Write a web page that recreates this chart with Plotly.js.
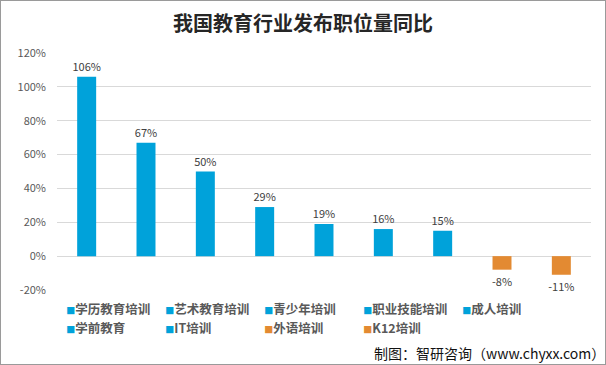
<!DOCTYPE html>
<html><head><meta charset="utf-8">
<script src="https://cdn.plot.ly/plotly-3.0.1.min.js"></script>
<style>
html,body{margin:0;padding:0;background:#fff;}
#wrap{width:606px;height:365px;box-sizing:border-box;border:1px solid #9a9a9a;position:relative;overflow:hidden;}
#chart{position:absolute;left:-1px;top:-1px;width:606px;height:365px;}
</style></head>
<body><div id="wrap"><div id="chart"></div></div>
<script>
const categories = ["学历教育培训","艺术教育培训","青少年培训","职业技能培训","成人培训","学前教育","IT培训","外语培训","K12培训"];
const values = [106, 67, 50, 29, 19, 16, 15, -8, -11];
const colors = ["#00A2DA","#00A2DA","#00A2DA","#00A2DA","#00A2DA","#00A2DA","#00A2DA","#E38A32","#E38A32"];
const yTicks = [-20, 0, 20, 40, 60, 80, 100, 120];

const bars = categories.map((c, i) => ({
  type: 'bar',
  name: c,
  x: [c],
  y: [values[i]],
  width: 0.32,
  marker: {color: colors[i]},
  text: [values[i] + '%'],
  textposition: 'outside',
  constraintext: 'none',
  cliponaxis: false,
  showlegend: false,
  textfont: {family: 'Noto Sans CJK SC, sans-serif', size: 11, color: '#404040'},
  hoverinfo: 'skip'
}));

// legend entries: square key drawn as a coloured glyph right before the name
const legendEntries = categories.map((c, i) => ({
  type: 'scatter',
  mode: 'none',
  x: [null], y: [null],
  name: '<span style="color:' + colors[i] + ';font-size:9px">■</span>' + c,
  showlegend: true,
  hoverinfo: 'skip'
}));

const layout = {
  width: 606, height: 365,
  margin: {l: 57, r: 15, t: 53, b: 75},
  paper_bgcolor: '#fff', plot_bgcolor: '#fff',
  barmode: 'overlay',
  showlegend: true,
  title: {text: '我国教育行业发布职位量同比', xref: 'container', x: 0.5, xanchor: 'center', yref: 'container', y: 0.934, yanchor: 'middle',
          font: {family: 'Noto Sans CJK SC, sans-serif', size: 20, color: '#262626', weight: 'bold'}},
  xaxis: {categoryorder: 'array', categoryarray: categories, showticklabels: false, showgrid: false, zeroline: false, showline: false, ticks: ''},
  yaxis: {range: [-20, 120], tickvals: yTicks, ticktext: yTicks.map(v => v + '%'),
          showgrid: true, gridcolor: '#d9d9d9', gridwidth: 1, zeroline: false, showline: false,
          ticklabelstandoff: 10,
          tickfont: {family: 'Noto Sans CJK SC, sans-serif', size: 11, color: '#595959'}, ticks: '', ticklen: 0, automargin: false},
  legend: {orientation: 'h', x: 0.406, xanchor: 'center', y: -0.02, yanchor: 'top',
           entrywidth: 54, entrywidthmode: 'pixels', traceorder: 'normal',
           itemwidth: 30, tracegroupgap: 0,
           font: {family: 'Noto Sans CJK SC, sans-serif', size: 12.5, color: '#595959', weight: 'bold'}},
  annotations: [{text: '制图：智研咨询（www.chyxx.com）', xref: 'paper', yref: 'paper', x: 1.03, y: -0.267,
                 xanchor: 'right', yanchor: 'middle', showarrow: false,
                 font: {family: 'Noto Sans CJK SC, sans-serif', size: 14, color: '#111'}}]
};
Plotly.newPlot('chart', bars.concat(legendEntries), layout, {displayModeBar: false, staticPlot: true});
</script></body></html>
